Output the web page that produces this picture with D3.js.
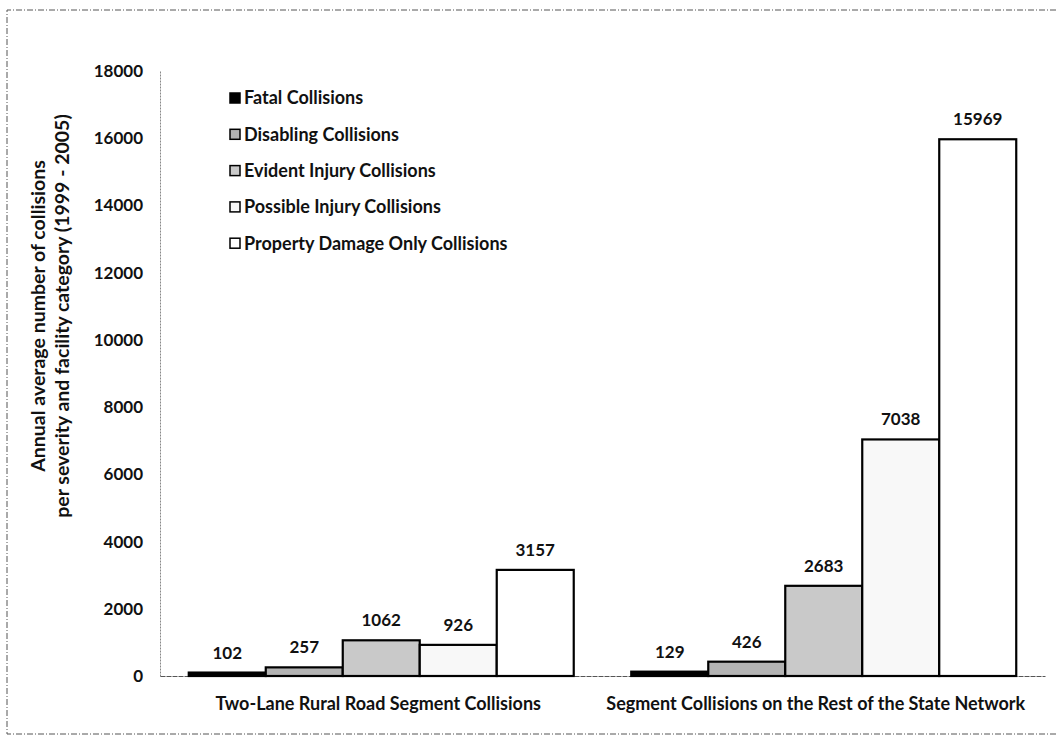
<!DOCTYPE html>
<meta charset="utf-8">
<title>Collisions by severity</title>
<head>
    <script src="https://d3js.org/d3.v7.min.js"></script>
</head>
<body style="margin: 0px; background: #fff">
<script>

    var facilities = ["Two-Lane Rural Road Segment Collisions", "Segment Collisions on the Rest of the State Network"]
    var severities = ["Fatal Collisions", "Disabling Collisions", "Evident Injury Collisions", "Possible Injury Collisions", "Property Damage Only Collisions"]
    var twoLaneValues = [102, 257, 1062, 926, 3157]
    var restValues = [129, 426, 2683, 7038, 15969]
    var yTicks = [0, 2000, 4000, 6000, 8000, 10000, 12000, 14000, 16000, 18000]
    var fills = ["#000", "#b3b3b3", "#c9c9c9", "#f8f8f8", "#fff"]

    var width = 1056,
            height = 749,
            plotLeft = 160, plotRight = 1045, plotTop = 71, plotBottom = 676;

    var font = "Lato, 'Open Sans', sans-serif";

    var svg = d3.select("body").append("svg")
            .attr("width", width)
            .attr("height", height)
            .style("font-family", font)
            .style("font-weight", "bold")

    // scanned frame
    svg.append("path")
            .attr("d", "M1056,10H7V734H1056")
            .attr("fill", "none")
            .attr("stroke", "#555")
            .attr("stroke-width", 1)
            .attr("stroke-dasharray", "6,2,1,2")

    var y = d3.scaleLinear().domain([0, 18000]).range([plotBottom, plotTop]);
    var x0 = d3.scaleBand().domain(facilities).range([plotLeft, plotRight]).paddingInner(0.13).paddingOuter(0.065);
    var x1 = d3.scaleBand().domain(severities).range([0, x0.bandwidth()]).padding(0);

    var yAxis = svg.append("g")
            .attr("transform", "translate(" + plotLeft + ",0)")
            .call(d3.axisLeft(y).tickValues(yTicks).tickFormat(d3.format("d")).tickSize(0).tickPadding(17));
    yAxis.select(".domain").attr("stroke", "#888").attr("stroke-dasharray", "2,1");
    yAxis.selectAll("text").style("font-size", "17px").style("font-family", font).attr("fill", "#111");

    var xAxis = svg.append("g")
            .attr("transform", "translate(0," + plotBottom + ")")
            .call(d3.axisBottom(x0).tickSize(0).tickPadding(21));
    xAxis.select(".domain").attr("stroke", "#555").attr("stroke-dasharray", "5,1");
    xAxis.selectAll("text").style("font-size", "18px").style("font-family", font).attr("fill", "#111")
            .attr("dx", function (d, i) { return i == 1 ? -8 : -3; });

    var rows = [twoLaneValues, restValues];
    rows.forEach(function (vals, g) {
        var grp = svg.append("g").attr("transform", "translate(" + x0(facilities[g]) + ",0)");
        grp.selectAll("rect").data(vals).enter().append("rect")
                .attr("x", function (d, i) { return x1(severities[i]); })
                .attr("y", function (d) { return y(d); })
                .attr("width", x1.bandwidth())
                .attr("height", function (d) { return plotBottom - y(d); })
                .attr("fill", function (d, i) { return fills[i]; })
                .attr("stroke", "#000")
                .attr("stroke-width", 2.2);
        grp.selectAll("text.val").data(vals).enter().append("text")
                .attr("class", "val")
                .attr("x", function (d, i) { return x1(severities[i]) + x1.bandwidth() / 2; })
                .attr("y", function (d) { return y(d) - 14; })
                .attr("text-anchor", "middle")
                .style("font-size", "17px")
                .attr("fill", "#111")
                .text(function (d) { return d; });
    });

    // legend
    var legend = svg.append("g").attr("transform", "translate(230,98)");
    severities.forEach(function (s, i) {
        var row = legend.append("g").attr("transform", "translate(0," + (i * 36.3) + ")");
        row.append("rect").attr("x", 0).attr("y", -5).attr("width", 10).attr("height", 10)
                .attr("fill", fills[i]).attr("stroke", "#000").attr("stroke-width", 1.5);
        row.append("text").attr("x", 14).attr("y", 0).attr("dy", "0.35em")
                .style("font-size", "18px").attr("fill", "#111").text(s);
    });

    // y title
    var title = svg.append("text")
            .attr("transform", "translate(50,316) rotate(-90)")
            .attr("text-anchor", "middle")
            .style("font-size", "19.5px")
            .attr("fill", "#111");
    title.append("tspan").attr("x", 0).attr("dy", "-0.25em").text("Annual average number of collisions");
    title.append("tspan").attr("x", 0).attr("dy", "1.2em").text("per severity and facility category (1999 - 2005)");

</script>
